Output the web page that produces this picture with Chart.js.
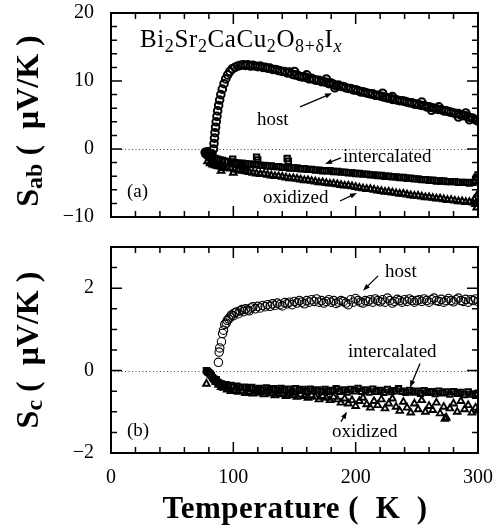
<!DOCTYPE html>
<html>
<head>
<meta charset="utf-8">
<script src="https://cdn.jsdelivr.net/npm/chart.js@4/dist/chart.umd.min.js"></script>
<style>
  body { margin: 0; background: #fff; }
  #wrap { position: relative; width: 501px; height: 531px; font-family: "Liberation Serif", serif; color: #000; }
  canvas { position: absolute; left: 0; }
  #cTop { top: 0; }
  #cBot { top: 232px; }
  .ytitle { position: absolute; white-space: nowrap; font-weight: bold; font-size: 32px; transform: translate(-50%, -50%) rotate(-90deg); }
  .ytitle sub { font-size: 24px; vertical-align: -4px; }
  #xtitle { position: absolute; left: 295px; top: 508px; transform: translate(-50%, -50%); white-space: nowrap; font-weight: bold; font-size: 31px; letter-spacing: 0.5px; }
  #formula { position: absolute; left: 140px; top: 26px; font-size: 25px; line-height: 25px; letter-spacing: 0.6px; white-space: nowrap; }
  #formula sub { font-size: 18px; vertical-align: -5px; }
</style>
</head>
<body>
<div id="wrap">
  <canvas id="cTop" width="501" height="232"></canvas>
  <canvas id="cBot" width="501" height="299"></canvas>
  <div id="formula">Bi<sub>2</sub>Sr<sub>2</sub>CaCu<sub>2</sub>O<sub>8+δ</sub>I<sub><i>x</i></sub></div>
  <div class="ytitle" style="left:28px; top:121px;">S<sub>ab</sub>&nbsp;(&nbsp;&nbsp;μV/K&nbsp;)</div>
  <div class="ytitle" style="left:28px; top:350px;">S<sub>c</sub>&nbsp;(&nbsp;&nbsp;μV/K&nbsp;)</div>
  <div id="xtitle">Temperature&nbsp;(&nbsp;&nbsp;K&nbsp;&nbsp;)</div>
</div>
<script>
// ---- ticks ----
const xMajor = [0, 100, 200, 300];
const xMinor = [20, 40, 60, 80, 120, 140, 160, 180, 220, 240, 260, 280];
const abMajor = [-10, 0, 10, 20];
const abMinor = [-8, -6, -4, -2, 2, 4, 6, 8, 12, 14, 16, 18];
const cMajor = [-2, 0, 2];
const cMinor = [-1.5, -1, -0.5, 0.5, 1, 1.5, 2.5];

// ---- (a) in-plane thermopower S_ab ----
const hostAbT = [77, 78, 79.5, 81, 82.5, 83.8, 84.2, 84.6, 85.0, 85.5,
  86.0, 86.6, 87.2, 88.0, 88.8, 89.8, 91.0, 92.4, 93.8, 95.4,
  97.2, 99.2, 101.4, 103.6, 106, 108, 110, 112, 114, 116,
  118, 120, 122, 124, 126, 128, 130, 132, 134, 136,
  138, 140, 142, 144, 146, 148, 150, 152, 154, 156,
  158, 160, 162, 164, 166, 168, 170, 172, 174, 176,
  178, 180, 182, 184, 186, 188, 190, 192, 194, 196,
  198, 200, 202, 204, 206, 208, 210, 212, 214, 216,
  218, 220, 222, 224, 226, 228, 230, 232, 234, 236,
  238, 240, 242, 244, 246, 248, 250, 252, 254, 256,
  258, 260, 262, 264, 266, 268, 270, 272, 274, 276,
  278, 280, 282, 284, 286, 288, 290, 292, 294, 296,
  298, 300, 150, 160, 176, 183, 222, 230, 254, 262,
  268, 284, 290, 293, 79, 80.5];
const hostAbS = [-0.5, -0.8, -1.0, -0.8, -0.7, 0.0, 0.8, 1.6, 2.4, 3.2,
  4.0, 4.8, 5.6, 6.4, 7.2, 8.0, 8.8, 9.6, 10.3, 10.9,
  11.4, 11.8, 12.0, 12.2, 12.3, 12.4, 12.3, 12.4, 12.2, 12.3,
  12.2, 12.1, 12.2, 12.0, 12.0, 11.9, 11.9, 11.7, 11.7, 11.6,
  11.5, 11.4, 11.4, 11.2, 11.3, 11.0, 10.9, 10.9, 10.7, 10.6,
  10.6, 10.5, 10.3, 10.4, 10.2, 10.1, 10.1, 9.9, 9.9, 9.8,
  9.6, 9.7, 9.5, 9.3, 9.4, 9.2, 9.2, 9.0, 8.9, 8.9,
  8.7, 8.7, 8.6, 8.4, 8.4, 8.3, 8.2, 8.1, 8.1, 7.9,
  7.9, 7.8, 7.7, 7.6, 7.5, 7.5, 7.3, 7.3, 7.2, 7.1,
  7.1, 7.0, 6.9, 6.8, 6.8, 6.6, 6.6, 6.5, 6.4, 6.4,
  6.2, 6.2, 6.1, 6.0, 5.9, 5.8, 5.8, 5.6, 5.6, 5.5,
  5.4, 5.3, 5.2, 5.2, 5.0, 4.9, 4.9, 4.7, 4.6, 4.5,
  4.3, 4.1, 11.4, 10.9, 10.3, 9.0, 8.2, 7.7, 6.9, 5.7,
  6.2, 4.7, 5.3, 4.3, -0.4, -1.2];

const intAbT = [77, 79, 81, 83, 85, 87, 89, 91, 93, 95,
  98, 101, 104, 107, 110, 113, 116, 119, 122, 125,
  128, 131, 134, 137, 140, 143, 146, 149, 152, 155,
  158, 161, 164, 167, 170, 173, 176, 179, 182, 185,
  188, 191, 194, 197, 200, 203, 206, 209, 212, 215,
  218, 221, 224, 227, 230, 233, 236, 239, 242, 245,
  248, 251, 254, 257, 260, 263, 266, 269, 272, 275,
  278, 281, 284, 287, 290, 293, 296, 298, 299, 300,
  119, 120, 144, 145, 99.5, 106];
const intAbS = [-0.6, -0.9, -1.1, -1.3, -1.4, -1.5, -1.6, -1.7, -1.8, -1.9,
  -1.9, -2.0, -2.1, -2.1, -2.2, -2.2, -2.3, -2.3, -2.4, -2.4,
  -2.5, -2.5, -2.6, -2.6, -2.7, -2.7, -2.8, -2.8, -2.8, -2.9,
  -2.9, -3.0, -3.0, -3.1, -3.1, -3.2, -3.2, -3.2, -3.3, -3.3,
  -3.4, -3.4, -3.5, -3.5, -3.6, -3.6, -3.7, -3.7, -3.8, -3.8,
  -3.9, -3.9, -4.0, -4.0, -4.1, -4.1, -4.2, -4.2, -4.3, -4.3,
  -4.4, -4.4, -4.5, -4.5, -4.6, -4.6, -4.7, -4.7, -4.7, -4.8,
  -4.8, -4.8, -4.9, -4.9, -4.9, -5.0, -4.9, -4.6, -4.2, -3.8,
  -1.2, -1.6, -1.4, -1.8, -1.5, -2.4];

const oxAbT = [79, 81, 83, 85, 87, 89, 91, 93, 95, 98,
  101, 104, 107, 110, 113, 116, 119, 122, 125, 128,
  131, 134, 137, 140, 143, 146, 149, 152, 155, 158,
  161, 164, 167, 170, 173, 176, 179, 182, 185, 188,
  191, 194, 197, 200, 203, 206, 209, 212, 215, 218,
  221, 224, 227, 230, 233, 236, 239, 242, 245, 248,
  251, 254, 257, 260, 263, 266, 269, 272, 275, 278,
  281, 284, 287, 290, 293, 296, 298, 300, 299, 297,
  300, 90, 100, 105, 84, 110];
const oxAbS = [-1.8, -2.1, -2.3, -2.4, -2.5, -2.6, -2.7, -2.8, -2.8, -2.9,
  -3.0, -3.1, -3.2, -3.3, -3.4, -3.5, -3.6, -3.7, -3.7, -3.8,
  -3.9, -4.0, -4.0, -4.1, -4.2, -4.3, -4.3, -4.4, -4.5, -4.6,
  -4.6, -4.7, -4.8, -4.9, -4.9, -5.0, -5.1, -5.1, -5.2, -5.3,
  -5.4, -5.4, -5.5, -5.6, -5.7, -5.8, -5.9, -5.9, -6.0, -6.1,
  -6.2, -6.3, -6.3, -6.4, -6.5, -6.6, -6.6, -6.7, -6.8, -6.9,
  -6.9, -7.0, -7.1, -7.1, -7.2, -7.3, -7.3, -7.4, -7.5, -7.5,
  -7.6, -7.7, -7.7, -7.8, -7.8, -7.9, -8.1, -8.0, -8.6, -7.4,
  -6.6, -3.2, -3.5, -2.6, -2.0, -2.9];

// ---- (b) out-of-plane thermopower S_c ----
const hostCT = [87.8, 88.4, 88.9, 90.3, 91.2, 92.0, 93.0, 94.2, 95.0, 96.2,
  97.3, 98.5, 99.8, 101, 102.5, 104, 105.5, 107, 108.5, 110,
  111.5, 113, 114.5, 116, 118, 120, 122, 124, 126, 128,
  130, 132, 134, 136, 138, 140, 142, 144, 146, 148,
  150, 152, 154, 156, 158, 160, 162, 164, 166, 168,
  170, 172, 174, 176, 178, 180, 182, 184, 186, 188,
  190, 192, 194, 196, 198, 200, 202, 204, 206, 208,
  210, 212, 214, 216, 218, 220, 222, 224, 226, 228,
  230, 232, 234, 236, 238, 240, 242, 244, 246, 248,
  250, 252, 254, 256, 258, 260, 262, 264, 266, 268,
  270, 272, 274, 276, 278, 280, 282, 284, 286, 288,
  290, 292, 294, 296, 298, 300];
const hostCS = [0.20, 0.45, 0.55, 0.70, 0.90, 0.98, 1.12, 1.15, 1.22, 1.25,
  1.30, 1.35, 1.33, 1.40, 1.42, 1.38, 1.45, 1.48, 1.43, 1.50,
  1.47, 1.45, 1.52, 1.55, 1.50, 1.56, 1.52, 1.58, 1.55, 1.60,
  1.56, 1.62, 1.58, 1.64, 1.60, 1.57, 1.65, 1.62, 1.66, 1.60,
  1.68, 1.64, 1.70, 1.66, 1.62, 1.70, 1.66, 1.72, 1.68, 1.74,
  1.66, 1.70, 1.64, 1.68, 1.72, 1.66, 1.70, 1.63, 1.66, 1.70,
  1.68, 1.64, 1.60, 1.72, 1.66, 1.75, 1.70, 1.66, 1.64, 1.70,
  1.68, 1.72, 1.66, 1.74, 1.70, 1.67, 1.72, 1.66, 1.76, 1.70,
  1.64, 1.68, 1.73, 1.70, 1.66, 1.72, 1.68, 1.74, 1.70, 1.66,
  1.70, 1.72, 1.68, 1.74, 1.70, 1.66, 1.72, 1.76, 1.70, 1.68,
  1.73, 1.66, 1.70, 1.75, 1.70, 1.67, 1.72, 1.76, 1.70, 1.68,
  1.73, 1.66, 1.72, 1.70, 1.74, 1.68];

const intCT = [78, 79, 80, 81, 82, 83, 84, 85, 86, 87,
  88, 90, 92, 94, 96, 98, 100, 103, 106, 109,
  112, 115, 118, 121, 124, 127, 130, 133, 136, 139,
  142, 145, 148, 151, 154, 157, 160, 163, 166, 169,
  172, 175, 178, 181, 184, 187, 190, 193, 196, 199,
  202, 205, 208, 211, 214, 217, 220, 223, 226, 229,
  232, 235, 238, 241, 244, 247, 250, 253, 256, 259,
  262, 265, 268, 271, 274, 277, 280, 283, 286, 289,
  292, 295, 298, 300];
const intCS = [0.0, -0.02, -0.05, -0.08, -0.12, -0.17, -0.2, -0.24, -0.22, -0.28,
  -0.3, -0.32, -0.35, -0.34, -0.38, -0.36, -0.4, -0.38, -0.42, -0.4,
  -0.44, -0.41, -0.45, -0.43, -0.47, -0.42, -0.46, -0.44, -0.48, -0.43,
  -0.47, -0.45, -0.5, -0.44, -0.48, -0.46, -0.5, -0.45, -0.49, -0.47,
  -0.51, -0.46, -0.5, -0.48, -0.44, -0.5, -0.47, -0.52, -0.46, -0.49,
  -0.43, -0.5, -0.47, -0.52, -0.45, -0.5, -0.48, -0.53, -0.46, -0.51,
  -0.49, -0.44, -0.5, -0.53, -0.48, -0.52, -0.5, -0.55, -0.49, -0.53,
  -0.51, -0.56, -0.5, -0.54, -0.52, -0.57, -0.51, -0.55, -0.53, -0.58,
  -0.52, -0.57, -0.6, -0.55];

const oxCT = [78, 80, 82, 84, 86, 88, 90, 92, 95, 98,
  101, 104, 107, 110, 113, 116, 119, 122, 125, 128,
  131, 134, 137, 140, 143, 146, 149, 152, 155, 158,
  161, 164, 167, 170, 173, 176, 179, 182, 185, 188,
  191, 194, 197, 200, 203, 206, 209, 212, 215, 218,
  221, 224, 227, 230, 233, 236, 239, 242, 245, 248,
  251, 254, 257, 260, 263, 266, 269, 272, 274, 277,
  280, 283, 286, 289, 292, 295, 298, 300, 273];
const oxCS = [-0.32, -0.05, -0.1, -0.18, -0.28, -0.35, -0.4, -0.42, -0.46, -0.5,
  -0.48, -0.52, -0.5, -0.55, -0.52, -0.56, -0.5, -0.54, -0.58, -0.52,
  -0.56, -0.6, -0.55, -0.58, -0.62, -0.56, -0.6, -0.64, -0.58, -0.62,
  -0.66, -0.6, -0.64, -0.7, -0.62, -0.66, -0.72, -0.64, -0.7, -0.78,
  -0.68, -0.8, -0.72, -0.86, -0.74, -0.66, -0.82, -0.9, -0.74, -0.84,
  -0.7, -0.92, -0.8, -0.68, -0.88, -0.98, -0.76, -0.9, -1.02, -0.8,
  -0.94, -0.72, -1.0, -0.86, -0.96, -0.78, -1.04, -0.88, -1.14, -0.92,
  -0.8, -1.0, -0.74, -0.94, -0.84, -1.02, -0.9, -0.98, -1.17];

// ---- labels and arrows (in data units: T, S) ----
const notesTop = [
  { text: "host", at: [119.3, 3.5] },
  { text: "intercalated", at: [189.6, -1.95] },
  { text: "oxidized", at: [124.3, -7.9] },
  { text: "(a)", at: [13, -7.1] }
];
const arrowsTop = [
  { from: [154.5, 6.2], to: [180.7, 8.2] },
  { from: [188, -1.3], to: [175, -2.2] },
  { from: [187.2, -7.65], to: [201.1, -6.47] }
];
const notesBot = [
  { text: "host", at: [224, 2.27] },
  { text: "intercalated", at: [193.7, 0.32] },
  { text: "oxidized", at: [180.7, -1.62] },
  { text: "(b)", at: [13, -1.58] }
];
const arrowsBot = [
  { from: [218.3, 2.3], to: [206, 1.94] },
  { from: [252.6, 0.17], to: [244.4, -0.41] },
  { from: [188, -1.24], to: [192.9, -1.0] }
];

Chart.defaults.font.family = '"Liberation Serif", serif';
Chart.defaults.color = "#000";

function pairs(xs, ys) {
  return xs.map((x, i) => ({ x: x, y: ys[i] }));
}

function minus(v) {
  return String(v).replace("-", "\u2212");
}

// box, inward ticks on all four sides, dotted zero line
const framePlugin = {
  id: "frame",
  beforeDatasetsDraw(chart) {
    const { ctx, chartArea: a, scales: { y } } = chart;
    const y0 = Math.round(y.getPixelForValue(0)) + 0.5;
    ctx.save();
    ctx.strokeStyle = "#444";
    ctx.lineWidth = 1;
    ctx.setLineDash([1, 2.5]);
    ctx.beginPath();
    ctx.moveTo(a.left, y0);
    ctx.lineTo(a.right, y0);
    ctx.stroke();
    ctx.restore();
  },
  afterDatasetsDraw(chart, args, opts) {
    const { ctx, chartArea: a, scales: { x, y } } = chart;
    ctx.save();
    ctx.strokeStyle = "#000";
    ctx.lineWidth = 1.5;
    ctx.beginPath();
    const xt = (v, len) => {
      const p = x.getPixelForValue(v);
      ctx.moveTo(p, a.bottom); ctx.lineTo(p, a.bottom - len);
      ctx.moveTo(p, a.top); ctx.lineTo(p, a.top + len);
    };
    const yt = (v, len) => {
      const p = y.getPixelForValue(v);
      ctx.moveTo(a.left, p); ctx.lineTo(a.left + len, p);
      ctx.moveTo(a.right, p); ctx.lineTo(a.right - len, p);
    };
    xMajor.forEach(v => xt(v, 11));
    xMinor.forEach(v => xt(v, 6));
    opts.yMajor.forEach(v => yt(v, 11));
    opts.yMinor.forEach(v => yt(v, 6));
    ctx.stroke();
    ctx.lineWidth = 2;
    ctx.strokeRect(a.left, a.top, a.right - a.left, a.bottom - a.top);
    ctx.restore();
  }
};

const notesPlugin = {
  id: "notes",
  afterDraw(chart, args, opts) {
    const { ctx, scales: { x, y } } = chart;
    ctx.save();
    ctx.fillStyle = "#000";
    ctx.strokeStyle = "#000";
    ctx.font = '19px "Liberation Serif"';
    ctx.textAlign = "left";
    ctx.textBaseline = "alphabetic";
    opts.texts.forEach(t => {
      ctx.fillText(t.text, x.getPixelForValue(t.at[0]), y.getPixelForValue(t.at[1]));
    });
    ctx.lineWidth = 1.3;
    opts.arrows.forEach(ar => {
      const x1 = x.getPixelForValue(ar.from[0]), y1 = y.getPixelForValue(ar.from[1]);
      const x2 = x.getPixelForValue(ar.to[0]), y2 = y.getPixelForValue(ar.to[1]);
      const ang = Math.atan2(y2 - y1, x2 - x1);
      ctx.beginPath();
      ctx.moveTo(x1, y1);
      ctx.lineTo(x2 - 4 * Math.cos(ang), y2 - 4 * Math.sin(ang));
      ctx.stroke();
      ctx.beginPath();
      ctx.moveTo(x2, y2);
      ctx.lineTo(x2 - 7 * Math.cos(ang) + 2.6 * Math.sin(ang), y2 - 7 * Math.sin(ang) - 2.6 * Math.cos(ang));
      ctx.lineTo(x2 - 7 * Math.cos(ang) - 2.6 * Math.sin(ang), y2 - 7 * Math.sin(ang) + 2.6 * Math.cos(ang));
      ctx.closePath();
      ctx.fill();
    });
    ctx.restore();
  }
};

function makeChart(id, cfg) {
  return new Chart(document.getElementById(id), {
    type: "scatter",
    data: { datasets: cfg.datasets },
    options: {
      responsive: false,
      animation: false,
      devicePixelRatio: 1,
      events: [],
      layout: { padding: cfg.padding, autoPadding: false },
      plugins: {
        legend: { display: false },
        tooltip: { enabled: false },
        frame: { yMajor: cfg.yMajor, yMinor: cfg.yMinor },
        notes: { texts: cfg.texts, arrows: cfg.arrows }
      },
      scales: {
        x: {
          type: "linear", min: 0, max: 300,
          grid: { display: false, drawTicks: false },
          border: { display: false },
          ticks: { display: cfg.showX, font: { size: 20 }, padding: 13, color: "#000" },
          afterBuildTicks(s) { s.ticks = xMajor.map(v => ({ value: v })); },
          afterFit(s) { s.height = cfg.xHeight; s.paddingLeft = 0; s.paddingRight = 0; }
        },
        y: {
          min: cfg.yMin, max: cfg.yMax,
          grid: { display: false, drawTicks: false },
          border: { display: false },
          ticks: { font: { size: 20 }, padding: 17, color: "#000", callback: v => minus(v) },
          afterBuildTicks(s) { s.ticks = cfg.yMajor.map(v => ({ value: v })); },
          afterFit(s) { s.width = 111; s.paddingTop = 0; s.paddingBottom = 0; }
        }
      }
    },
    plugins: [framePlugin, notesPlugin]
  });
}

// open markers: no fill, so overlapping outlines build up like the print
function series(label, xs, ys, style, r, bw) {
  return {
    label: label, data: pairs(xs, ys), pointStyle: style,
    pointRadius: r, borderWidth: bw, borderColor: "#000", backgroundColor: "rgba(0,0,0,0)"
  };
}

makeChart("cTop", {
  datasets: [
    series("oxidized", oxAbT, oxAbS, "triangle", 3.8, 2),
    series("intercalated", intAbT, intAbS, "rect", 3.8, 2),
    series("host", hostAbT, hostAbS, "circle", 3.8, 2)
  ],
  padding: { left: 0, right: 23, top: 13, bottom: 15 },
  yMin: -10, yMax: 20, yMajor: abMajor, yMinor: abMinor,
  showX: false, xHeight: 0,
  texts: notesTop, arrows: arrowsTop
});

makeChart("cBot", {
  datasets: [
    series("oxidized", oxCT, oxCS, "triangle", 3.8, 1.9),
    series("intercalated", intCT, intCS, "rect", 3.8, 2),
    series("host", hostCT, hostCS, "circle", 4.2, 1.1)
  ],
  padding: { left: 0, right: 23, top: 15, bottom: 0 },
  yMin: -2, yMax: 3, yMajor: cMajor, yMinor: cMinor,
  showX: true, xHeight: 78,
  texts: notesBot, arrows: arrowsBot
});
</script>
</body>
</html>
